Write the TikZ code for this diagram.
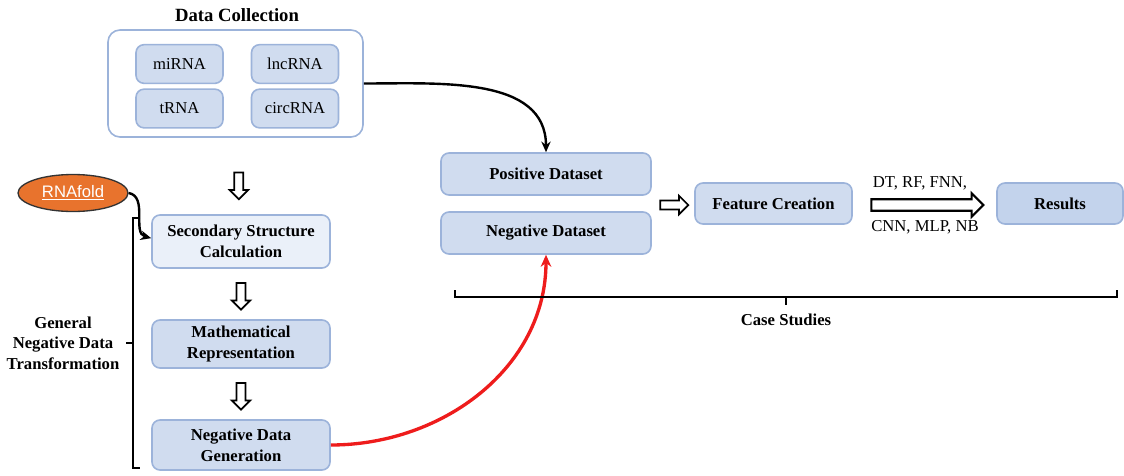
\documentclass[tikz,border=0pt]{standalone}
\usepackage{fontspec}
\setmainfont{Liberation Serif}
\newfontfamily\arialfont{Liberation Sans}
\usepackage{tikz}
\usetikzlibrary{shapes.geometric, shapes.arrows, arrows.meta, calc, positioning}
\definecolor{boxfill}{HTML}{D0DCEF}
\definecolor{boxline}{HTML}{9CB3DA}
\definecolor{lightfill}{HTML}{EAF0F9}
\definecolor{darkfill}{HTML}{C3D3EC}
\definecolor{rnaorange}{HTML}{E8732D}
\definecolor{curvered}{HTML}{EE1C1C}

\begin{document}
\begin{tikzpicture}[x=0.75pt, y=-0.75pt]
    \tikzstyle{box}=[draw=boxline, fill=boxfill, line width=1.2pt, rounded corners=6pt, align=center, inner sep=0pt, font=\fontsize{12.5}{15.5}\selectfont\bfseries]
    \tikzstyle{rna}=[box, font=\fontsize{12.5}{14}\selectfont, minimum width=65.25pt, minimum height=29pt]
    \tikzstyle{hollow}=[single arrow, draw, fill=white, line width=1.3pt, inner sep=0pt, text height=5.5pt, text depth=0pt, single arrow head extend=3.5pt, minimum height=20pt]

    \useasboundingbox (0,0) rectangle (1124,475);

    % Data collection
    \node[box, fill=white, rounded corners=9pt, minimum width=191.25pt, minimum height=80.25pt] (dc) at (235.5,83.5) {};
    \node[font=\fontsize{14}{16}\selectfont\bfseries] (dctitle) at (237,15) {Data Collection};
    \node[rna] (mirna) at (179.5,64) {miRNA};
    \node[rna] (lncrna) at (295,64) {lncRNA};
    \node[rna] (trna) at (179.5,108.5) {tRNA};
    \node[rna] (circrna) at (295,108.5) {circRNA};

    % RNAfold
    \node[ellipse, draw=black!80, fill=rnaorange, line width=1pt, minimum width=82.5pt, minimum height=27.75pt, text=white, font=\arialfont\fontsize{12.5}{14}\selectfont] (rnafold) at (73,193) {\underline{RNAfold}};

    % Negative data transformation
    \node[box, fill=lightfill, minimum width=133.5pt, minimum height=39.75pt] (ssc) at (241,241.5) {Secondary Structure\\Calculation};
    \node[box, minimum width=133.5pt, minimum height=36pt] (mr) at (241,344) {Mathematical\\Representation};
    \node[box, minimum width=133.5pt, minimum height=37.5pt] (ndg) at (241,445) {Negative Data\\Generation};

    % Datasets
    \node[box, minimum width=157.5pt, minimum height=31.5pt] (pos) at (546,174) {Positive Dataset};
    \node[box, minimum width=157.5pt, minimum height=31.5pt] (neg) at (546,233) {Negative Dataset};

    % Case studies
    \node[box, minimum width=117.75pt, minimum height=30.75pt] (feat) at (773.5,203.5) {Feature Creation};
    \node[box, fill=darkfill, minimum width=94.5pt, minimum height=30.75pt] (res) at (1060,203.5) {Results};

    % Hollow arrows
    \node[hollow, rotate=-90] (a1) at ($(dc.south)!0.6!(ssc.north)$) {};
    \node[hollow, rotate=-90] (a2) at ($(ssc.south)!0.5!(mr.north)$) {};
    \node[hollow, rotate=-90] (a3) at ($(mr.south)!0.5!(ndg.north)$) {};
    \node[hollow, minimum height=21pt] (a4) at (672,205) {};
    \node[hollow, line width=1.6pt, text height=7pt, single arrow head extend=4.5pt, minimum height=84pt] (a5) at ($(feat.east)!0.5!(res.west)+(0,1.5)$) {};
    \node[font=\fontsize{12.5}{14}\selectfont] (algtop) at (920,183) {DT, RF, FNN,};
    \node[font=\fontsize{12.5}{14}\selectfont] (algbot) at (925,227) {CNN, MLP, NB};

    % Curved connectors
    \draw[line width=1.8pt, -{Stealth[length=8pt, width=7pt]}] (dc.east) to[out=0, in=90] (pos.north);
    \draw[line width=1.8pt, -{Stealth[length=8pt, width=7pt]}] (rnafold.east) to[out=-10, in=165] ([yshift=2.5pt]ssc.west);
    \draw[curvered, line width=2.5pt, -{Stealth[length=9pt, width=8pt]}] (ndg.east) to[out=0, in=-90] (neg.south);

    % Brackets
    \draw[line width=1.1pt] (140,218) -- (133,218) -- (133,468) -- (140,468);
    \draw[line width=1.1pt] (133,343) -- (126,343);
    \node[align=center, font=\fontsize{12.5}{15.5}\selectfont\bfseries] (gndt) at (63,343) {General\\Negative Data\\Transformation};
    \draw[line width=1.3pt] (455,290) -- (455,297) -- (1117,297) -- (1117,290);
    \draw[line width=1.3pt] (786,297) -- (786,305);
    \node[font=\fontsize{12.5}{14}\selectfont\bfseries] (cs) at (786,320) {Case Studies};
\end{tikzpicture}
\end{document}
